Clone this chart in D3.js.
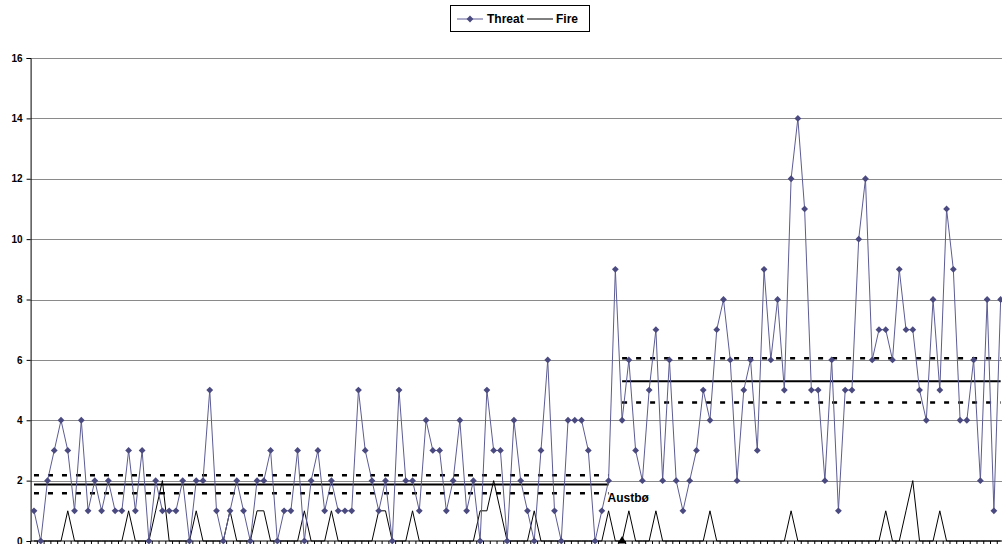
<!DOCTYPE html>
<html><head><meta charset="utf-8">
<script src="https://cdn.jsdelivr.net/npm/d3@7"></script>
<style>body{margin:0;background:#fff}svg{display:block}text{font-family:"Liberation Sans",Arial,sans-serif;font-weight:bold}</style>
</head><body><svg id="c" width="1002" height="544"></svg>
<script>
const threat = [1,0,2,3,4,3,1,4,1,2,1,2,1,1,3,1,3,0,2,1,
1,1,2,0,2,2,5,1,0,1,2,1,0,2,2,3,0,1,1,3,
0,2,3,1,2,1,1,1,5,3,2,1,2,0,5,2,2,1,4,3,
3,1,2,4,1,2,0,5,3,3,0,4,2,1,0,3,6,1,0,4,
4,4,3,0,1,2,9,4,6,3,2,5,7,2,6,2,1,2,3,5,
4,7,8,6,2,5,6,3,9,6,8,5,12,14,11,5,5,2,6,1,
5,5,10,12,6,7,7,6,9,7,7,5,4,8,5,11,9,4,4,6,
2,8,1,8];
const fire = [0,0,0,0,0,1,0,0,0,0,0,0,0,0,1,0,0,0,1,2,
0,0,0,0,1,0,0,0,0,1,0,0,0,1,1,0,0,0,0,0,
1,0,0,0,1,0,0,0,0,0,0,1,1,0,0,0,1,0,0,0,
0,0,0,0,0,0,1,1,2,1,0,0,0,0,1,0,0,0,0,0,
0,0,0,0,0,1,0,0,1,0,0,0,1,0,0,0,0,0,0,0,
1,0,0,0,0,0,0,0,0,0,0,0,1,0,0,0,0,0,0,0,
0,0,0,0,0,0,1,0,0,1,2,0,0,0,1,0,0,0,0,0,
0,0,0,0];
const yTicks = [0,2,4,6,8,10,12,14,16];
const phaseStart = [1, 88];
const phaseEnd = [86, 144];
const phaseMean = [1.87, 5.29];
const phaseUpper = [2.18, 6.05];
const phaseLower = [1.58, 4.59];
const markerIndex = [88];
const annotation = "Austbø";
const seriesNames = ["Threat", "Fire"];

const svg = d3.select("#c");
const left = 30.6, step = 6.76, n = threat.length;
const x = d3.scaleBand().domain(d3.range(n)).range([left, left + n*step]).paddingInner(0).paddingOuter(0);
const cx = i => x(i) + x.bandwidth()/2;
const y = d3.scaleLinear().domain([0,16]).range([541, 58]);
const crisp = v => Math.round(v) + 0.5;

// gridlines
svg.append("g").selectAll("line").data(yTicks.filter(d=>d>0)).join("line")
  .attr("x1", left).attr("x2", 1002).attr("y1", d=>crisp(y(d))).attr("y2", d=>crisp(y(d)))
  .attr("stroke", "#8a8a8a").attr("stroke-width", 1);

// y axis
const ya = svg.append("g").attr("transform", `translate(${left},0)`)
  .call(d3.axisLeft(y).tickValues(yTicks).tickSize(4).tickPadding(4));
ya.select(".domain").attr("stroke", "#000");
ya.selectAll(".tick line").attr("stroke", "#000");
ya.selectAll("text").attr("font-size", 10).attr("font-weight", "bold").attr("fill", "#000")
  .attr("font-family", "Liberation Sans, Arial, sans-serif");

// x axis
const xa = svg.append("g").attr("transform", `translate(0,${y(0)})`);
xa.append("line").attr("x1", left).attr("x2", 1002).attr("stroke", "#000");
xa.selectAll("line.t").data(d3.range(n+1)).join("line").attr("class","t")
  .attr("x1", i => i < n ? x(i) : x(n-1)+step).attr("x2", i => i < n ? x(i) : x(n-1)+step)
  .attr("y1", 0).attr("y2", 3).attr("stroke", "#000");

// phase lines
phaseStart.forEach((s, k) => {
  const x1 = cx(s-1), x2 = cx(phaseEnd[k]-1);
  svg.append("line").attr("x1", x1).attr("x2", x2).attr("y1", y(phaseMean[k])).attr("y2", y(phaseMean[k]))
    .attr("stroke", "#000").attr("stroke-width", 2);
  [phaseUpper[k], phaseLower[k]].forEach(v => {
    svg.append("line").attr("x1", x1).attr("x2", x2).attr("y1", y(v)).attr("y2", y(v))
      .attr("stroke", "#000").attr("stroke-width", 2.5).attr("stroke-dasharray", "5,9");
  });
});

// fire
svg.append("path").datum(fire).attr("fill","none").attr("stroke","#000").attr("stroke-width",1)
  .attr("d", d3.line().x((d,i)=>cx(i)).y(d=>y(d)));

// threat
svg.append("path").datum(threat).attr("fill","none").attr("stroke","#5c5c94").attr("stroke-width",1)
  .attr("d", d3.line().x((d,i)=>cx(i)).y(d=>y(d)));
const dia = "M0,-3.4L3.4,0L0,3.4L-3.4,0Z";
svg.append("g").selectAll("path").data(threat).join("path")
  .attr("transform", (d,i)=>`translate(${cx(i)},${y(d)})`).attr("d", dia).attr("fill", "#4a4a80");

// triangle marker
svg.append("g").selectAll("path").data(markerIndex).join("path")
  .attr("transform", d=>`translate(${cx(d-1)},${y(0)})`).attr("d","M0,-5L4.5,2.5L-4.5,2.5Z").attr("fill","#000");

// annotation
svg.append("text").attr("x", cx(phaseEnd[0]-1)-1).attr("y", y(phaseLower[0])+9)
  .attr("font-size", 12).attr("fill","#000").text(annotation);

// legend
const lg = svg.append("g");
lg.append("rect").attr("x",450.5).attr("y",5.5).attr("width",139).attr("height",26).attr("fill","#fff").attr("stroke","#000");
lg.append("line").attr("x1",457).attr("x2",483).attr("y1",19).attr("y2",19).attr("stroke","#5c5c94");
lg.append("path").attr("transform","translate(470,19)").attr("d",dia).attr("fill","#4a4a80");
lg.append("text").attr("x",487).attr("y",23).attr("font-size",12).text(seriesNames[0]);
lg.append("line").attr("x1",527).attr("x2",553).attr("y1",19).attr("y2",19).attr("stroke","#000");
lg.append("text").attr("x",556).attr("y",23).attr("font-size",12).text(seriesNames[1]);
</script></body></html>
